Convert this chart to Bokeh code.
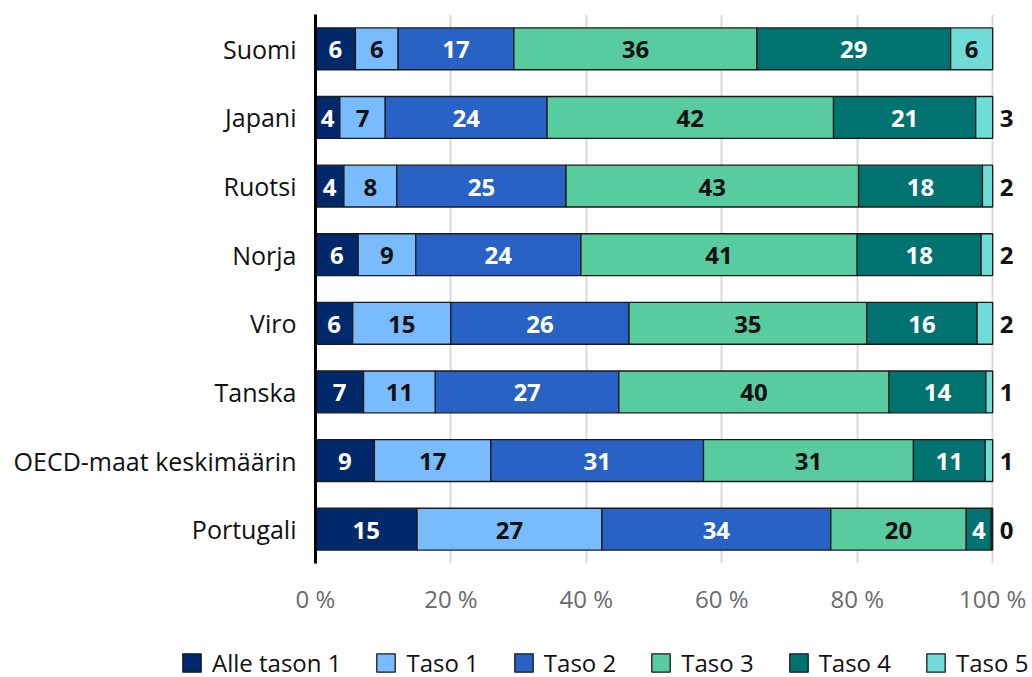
from bokeh.plotting import figure
from bokeh.layouts import column
from bokeh.models import ColumnDataSource, FactorRange, Range1d, Legend, LegendItem, FixedTicker
from bokeh.core.properties import value
from bokeh.embed import file_html
from bokeh.resources import INLINE

categories = ["Suomi", "Japani", "Ruotsi", "Norja", "Viro", "Tanska",
              "OECD-maat keskimäärin", "Portugali"]
levels = ["Alle tason 1", "Taso 1", "Taso 2", "Taso 3", "Taso 4", "Taso 5"]

alle_tason_1 = [5.9, 3.6, 4.2, 6.3, 5.5, 7.1, 8.7, 15.0]
taso_1 = [6.3, 6.7, 7.8, 8.5, 14.5, 10.6, 17.2, 27.3]
taso_2 = [17.1, 23.9, 25.0, 24.4, 26.3, 27.1, 31.4, 33.8]
taso_3 = [35.9, 42.3, 43.2, 40.8, 35.1, 39.9, 31.0, 20.0]
taso_4 = [28.6, 21.0, 18.3, 18.3, 16.3, 14.3, 10.6, 3.7]
taso_5 = [6.2, 2.5, 1.5, 1.7, 2.3, 1.0, 1.1, 0.2]

x_ticks = [0, 20, 40, 60, 80, 100]
x_tick_labels = ["0 %", "20 %", "40 %", "60 %", "80 %", "100 %"]

colors = ["#00296b", "#78bbff", "#2862c4", "#58cb9f", "#00726f", "#70dcd8"]
text_colors = ["white", "#111111", "white", "#111111", "white", "#111111"]
series = [alle_tason_1, taso_1, taso_2, taso_3, taso_4, taso_5]

FONT = "Open Sans"
EDGE = "#1a1a1a"

data = {"cat": categories}
for name, vals in zip(levels, series):
    data[name] = vals
source = ColumnDataSource(data)

p = figure(width=1032, height=637, output_backend="svg", toolbar_location=None,
           y_range=FactorRange(factors=list(reversed(categories))),
           x_range=Range1d(0, 105))
p.min_border_left = 315
p.min_border_right = 6
p.min_border_top = 14
p.min_border_bottom = 74
p.outline_line_color = None
p.background_fill_color = "white"

renderers = p.hbar_stack(levels, y="cat", height=0.61, source=source,
                         fill_color=colors, line_color=EDGE, line_width=1.3)

# value labels
left = [0.0] * len(categories)
for i, vals in enumerate(series):
    xs, ys, txt = [], [], []
    oxs, oys, otxt = [], [], []
    for j, v in enumerate(vals):
        lab = str(int(v + 0.5))
        if i == len(series) - 1 and v < 3:
            oxs.append(left[j] + v)
            oys.append(categories[j])
            otxt.append(lab)
        else:
            xs.append(left[j] + v / 2)
            ys.append(categories[j])
            txt.append(lab)
        left[j] += v
    if xs:
        p.text(x=xs, y=ys, text=txt, text_align="center", text_baseline="middle",
               text_font=value(FONT), text_font_style="bold", text_font_size="24px",
               text_color=text_colors[i], y_offset=1)
    if oxs:
        p.text(x=oxs, y=oys, text=otxt, text_align="left", text_baseline="middle",
               text_font=value(FONT), text_font_style="bold", text_font_size="24px",
               text_color="#111111", x_offset=7, y_offset=1)

# axes
p.xaxis.ticker = FixedTicker(ticks=x_ticks)
p.xaxis.major_label_overrides = {t: l for t, l in zip(x_ticks, x_tick_labels)}
p.xaxis.axis_line_color = None
p.xaxis.major_tick_line_color = None
p.xaxis.minor_tick_line_color = None
p.xaxis.major_label_text_font = FONT
p.xaxis.major_label_text_font_size = "24px"
p.xaxis.major_label_text_color = "#6b6b6b"
p.xaxis.major_label_standoff = 12

p.yaxis.axis_line_color = "black"
p.yaxis.axis_line_width = 3
p.yaxis.major_tick_line_color = None
p.yaxis.minor_tick_line_color = None
p.yaxis.major_label_text_font = FONT
p.yaxis.major_label_text_font_size = "25px"
p.yaxis.major_label_text_color = "#111111"
p.yaxis.major_label_standoff = 13

p.xgrid.grid_line_color = "#d9d9d9"
p.xgrid.grid_line_width = 2
p.ygrid.grid_line_color = None

# legend strip below the chart (same data, zero-height bars kept out of its view)
lf = figure(width=1032, height=40, output_backend="svg", toolbar_location=None,
            x_axis_location=None, y_axis_location=None,
            x_range=Range1d(-300, -200), y_range=FactorRange(factors=list(reversed(categories))))
lf.frame_align = False
lf.min_border_left = 0
lf.min_border_right = 0
lf.min_border_top = 0
lf.min_border_bottom = 0
lf.outline_line_color = None
lf.xgrid.grid_line_color = None
lf.ygrid.grid_line_color = None
lrs = lf.hbar_stack(levels, y="cat", height=0, source=source,
                    fill_color=colors, line_color=EDGE, line_width=1.3)
items = [LegendItem(label=lab, renderers=[r]) for lab, r in zip(levels, lrs)]
legend = Legend(items=items, orientation="horizontal", location=(180, -2),
                glyph_width=23, glyph_height=23, label_standoff=9, spacing=33,
                padding=0, margin=0, border_line_color=None, background_fill_alpha=0,
                label_text_font=FONT, label_text_font_size="24px", label_text_color="#111111")
lf.add_layout(legend, "center")

layout = column(p, lf, spacing=0)
open("out.html", "w").write(file_html(layout, INLINE))
